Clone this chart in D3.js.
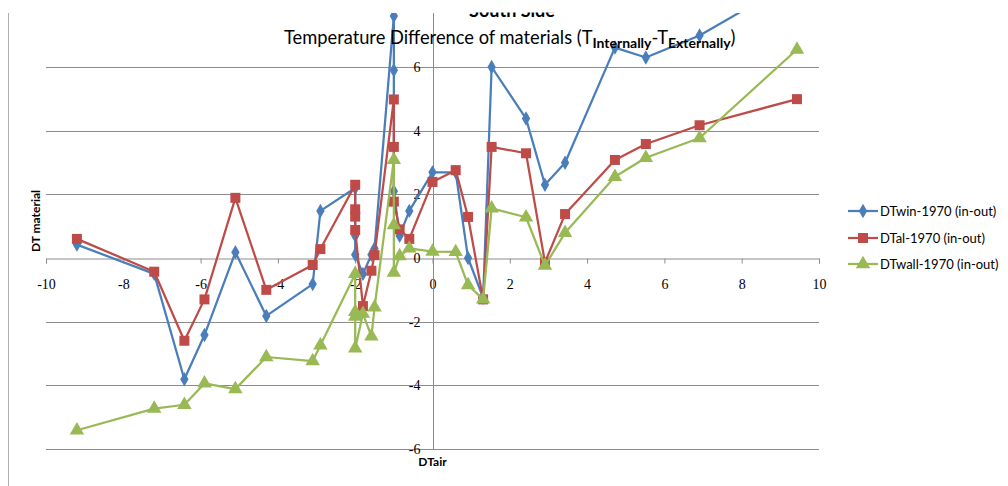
<!DOCTYPE html>
<html>
<head>
    <meta charset="utf-8">
    <script src="https://cdnjs.cloudflare.com/ajax/libs/d3/7.8.5/d3.min.js"></script>
    <style>
        body { margin: 0; background: #fff; }
        .tick-label { font-family: "Liberation Serif", serif; font-size: 14px; fill: #000; }
        .axis-title { font-family: Lato, sans-serif; font-size: 12px; font-weight: bold; fill: #000; }
        .legend-text { font-family: Lato, sans-serif; font-size: 13px; fill: #000; }
        .title { font-family: Lato, sans-serif; fill: #000; }
    </style>
</head>
<body>
<div id="chart"></div>
<script>
    const width = 1008;
    const height = 486;

    // DTair values (x), shared by all three series
    const dtAir = [-9.2, -7.2, -6.42, -5.9, -5.1, -4.3, -3.1, -2.9,
        -2.0, -2.0, -2.0, -2.0, -1.8, -1.58, -1.5,
        -1.0, -1.0, -1.0, -0.85, -0.6, 0.0, 0.6, 0.92, 1.31,
        1.53, 2.42, 2.91, 3.43, 4.72, 5.52, 6.91, 9.43];

    const dtWin = [0.42, -0.5, -3.81, -2.42, 0.18, -1.82, -0.82, 1.48,
        2.2, 1.4, 0.7, 0.1, -0.5, 0.1, 0.3,
        7.6, 5.9, 2.1, 0.7, 1.48, 2.69, 2.69, 0.0, -1.25,
        6.0, 4.38, 2.3, 2.99, 6.61, 6.3, 6.99, 8.75];

    const dtAl = [0.6, -0.43, -2.6, -1.3, 1.89, -1.0, -0.22, 0.28,
        2.3, 1.53, 1.3, 0.88, -1.51, -0.4, 0.09,
        4.98, 3.49, 1.77, 0.9, 0.6, 2.39, 2.76, 1.29, -1.3,
        3.49, 3.29, -0.14, 1.38, 3.08, 3.58, 4.17, 4.99];

    const dtWall = [-5.41, -4.73, -4.61, -3.94, -4.12, -3.11, -3.24, -2.74,
        -0.5, -1.69, -1.84, -2.84, -1.75, -2.46, -1.55,
        3.08, 1.03, -0.46, 0.06, 0.3, 0.2, 0.19, -0.85, -1.3,
        1.56, 1.28, -0.24, 0.79, 2.55, 3.15, 3.77, 6.55];

    const seriesNames = ["DTwin-1970 (in-out)", "DTal-1970 (in-out)", "DTwall-1970 (in-out)"];
    const seriesColors = ["#4A7EBB", "#BE4B48", "#98B954"];
    const seriesValues = [dtWin, dtAl, dtWall];
    const seriesSymbols = [d3.symbolDiamond, d3.symbolSquare, d3.symbolTriangle];
    const symbolSizes = [60, 100, 90];

    const xTicks = [-10, -8, -6, -4, -2, 0, 2, 4, 6, 8, 10];
    const yTicks = [-6, -4, -2, 0, 2, 4, 6];

    const x = d3.scaleLinear().domain([-10, 10]).range([46, 819]);
    const y = d3.scaleLinear().domain([-6, 6]).range([449, 67]);
    const plotTop = 13;
    const fmt = d => String(d);

    const svg = d3.select("#chart").append("svg")
        .attr("width", width)
        .attr("height", height);

    svg.append("defs").append("clipPath").attr("id", "plot-clip")
        .append("rect")
        .attr("x", 0).attr("y", plotTop)
        .attr("width", width).attr("height", y(-6) - plotTop + 10);

    // chart border (left edge only visible)
    svg.append("line")
        .attr("x1", 8.5).attr("x2", 8.5)
        .attr("y1", plotTop).attr("y2", height)
        .attr("stroke", "#b0b0b0").attr("stroke-width", 1);

    // horizontal gridlines
    svg.append("g").selectAll("line")
        .data(yTicks.filter(t => t !== 0))
        .enter().append("line")
        .attr("x1", x(-10)).attr("x2", x(10))
        .attr("y1", d => Math.round(y(d)) + 0.5)
        .attr("y2", d => Math.round(y(d)) + 0.5)
        .attr("stroke", "#8c8c8c").attr("stroke-width", 1);

    // x axis through y=0
    const xAxis = d3.axisBottom(x).tickValues(xTicks).tickSize(5).tickFormat(fmt);
    const gx = svg.append("g")
        .attr("transform", `translate(0,${Math.round(y(0)) + 0.5})`)
        .call(xAxis);
    gx.select(".domain").attr("stroke", "#8c8c8c");
    gx.selectAll(".tick line").attr("stroke", "#8c8c8c");
    gx.selectAll(".tick text").attr("class", "tick-label")
        .attr("dy", null).attr("y", 30);

    // y axis through x=0
    const yAxis = d3.axisLeft(y).tickValues(yTicks).tickSize(0).tickFormat(fmt);
    const gy = svg.append("g")
        .attr("transform", `translate(${Math.round(x(0)) + 0.5},0)`)
        .call(yAxis);
    gy.select(".domain").remove();
    gy.append("line")
        .attr("y1", plotTop).attr("y2", y(-6))
        .attr("stroke", "#8c8c8c");
    gy.selectAll(".tick text").attr("class", "tick-label").attr("x", -13);

    // series
    const plot = svg.append("g").attr("clip-path", "url(#plot-clip)");
    seriesValues.forEach((vals, i) => {
        const pts = dtAir.map((a, j) => [a, vals[j]]);
        plot.append("path")
            .datum(pts)
            .attr("fill", "none")
            .attr("stroke", seriesColors[i])
            .attr("stroke-width", 2.25)
            .attr("stroke-linejoin", "round")
            .attr("d", d3.line().x(d => x(d[0])).y(d => y(d[1])));
        plot.append("g").selectAll("path")
            .data(pts)
            .enter().append("path")
            .attr("transform", d => `translate(${x(d[0])},${y(d[1])})`)
            .attr("d", d3.symbol().type(seriesSymbols[i]).size(symbolSizes[i]))
            .attr("fill", seriesColors[i]);
    });

    // title (top line is cut off by the crop of the original)
    svg.append("text").attr("class", "title")
        .attr("x", 512).attr("y", 17)
        .attr("text-anchor", "middle")
        .attr("font-size", 18).attr("font-weight", "bold")
        .text("South Side");
    svg.append("rect").attr("x", 0).attr("y", 0).attr("width", width).attr("height", 12.5).attr("fill", "#fff");

    const title = svg.append("text").attr("class", "title")
        .attr("x", 284).attr("y", 44)
        .attr("font-size", 18.3);
    title.append("tspan").text("Temperature Difference of materials (T");
    title.append("tspan").attr("font-size", 14).attr("font-weight", "bold").attr("dy", 4).text("Internally");
    title.append("tspan").attr("dy", -4).text("-T");
    title.append("tspan").attr("font-size", 14).attr("font-weight", "bold").attr("dy", 4).text("Externally");
    title.append("tspan").attr("dy", -4).text(")");

    // axis titles
    svg.append("text").attr("class", "axis-title")
        .attr("transform", "translate(40,221) rotate(-90)")
        .attr("text-anchor", "middle")
        .text("DT material");
    svg.append("text").attr("class", "axis-title")
        .attr("x", x(0)).attr("y", 466)
        .attr("text-anchor", "middle")
        .text("DTair");

    // legend
    const legend = svg.append("g");
    const legendY = [211, 238, 264];
    seriesNames.forEach((name, i) => {
        const g = legend.append("g").attr("transform", `translate(848,${legendY[i]})`);
        g.append("line").attr("x1", 0).attr("x2", 30)
            .attr("stroke", seriesColors[i]).attr("stroke-width", 2.25);
        g.append("path").attr("transform", "translate(15,0)")
            .attr("d", d3.symbol().type(seriesSymbols[i]).size(symbolSizes[i]))
            .attr("fill", seriesColors[i]);
        g.append("text").attr("class", "legend-text")
            .attr("x", 32).attr("dy", "0.35em")
            .text(name);
    });
</script>
</body>
</html>
